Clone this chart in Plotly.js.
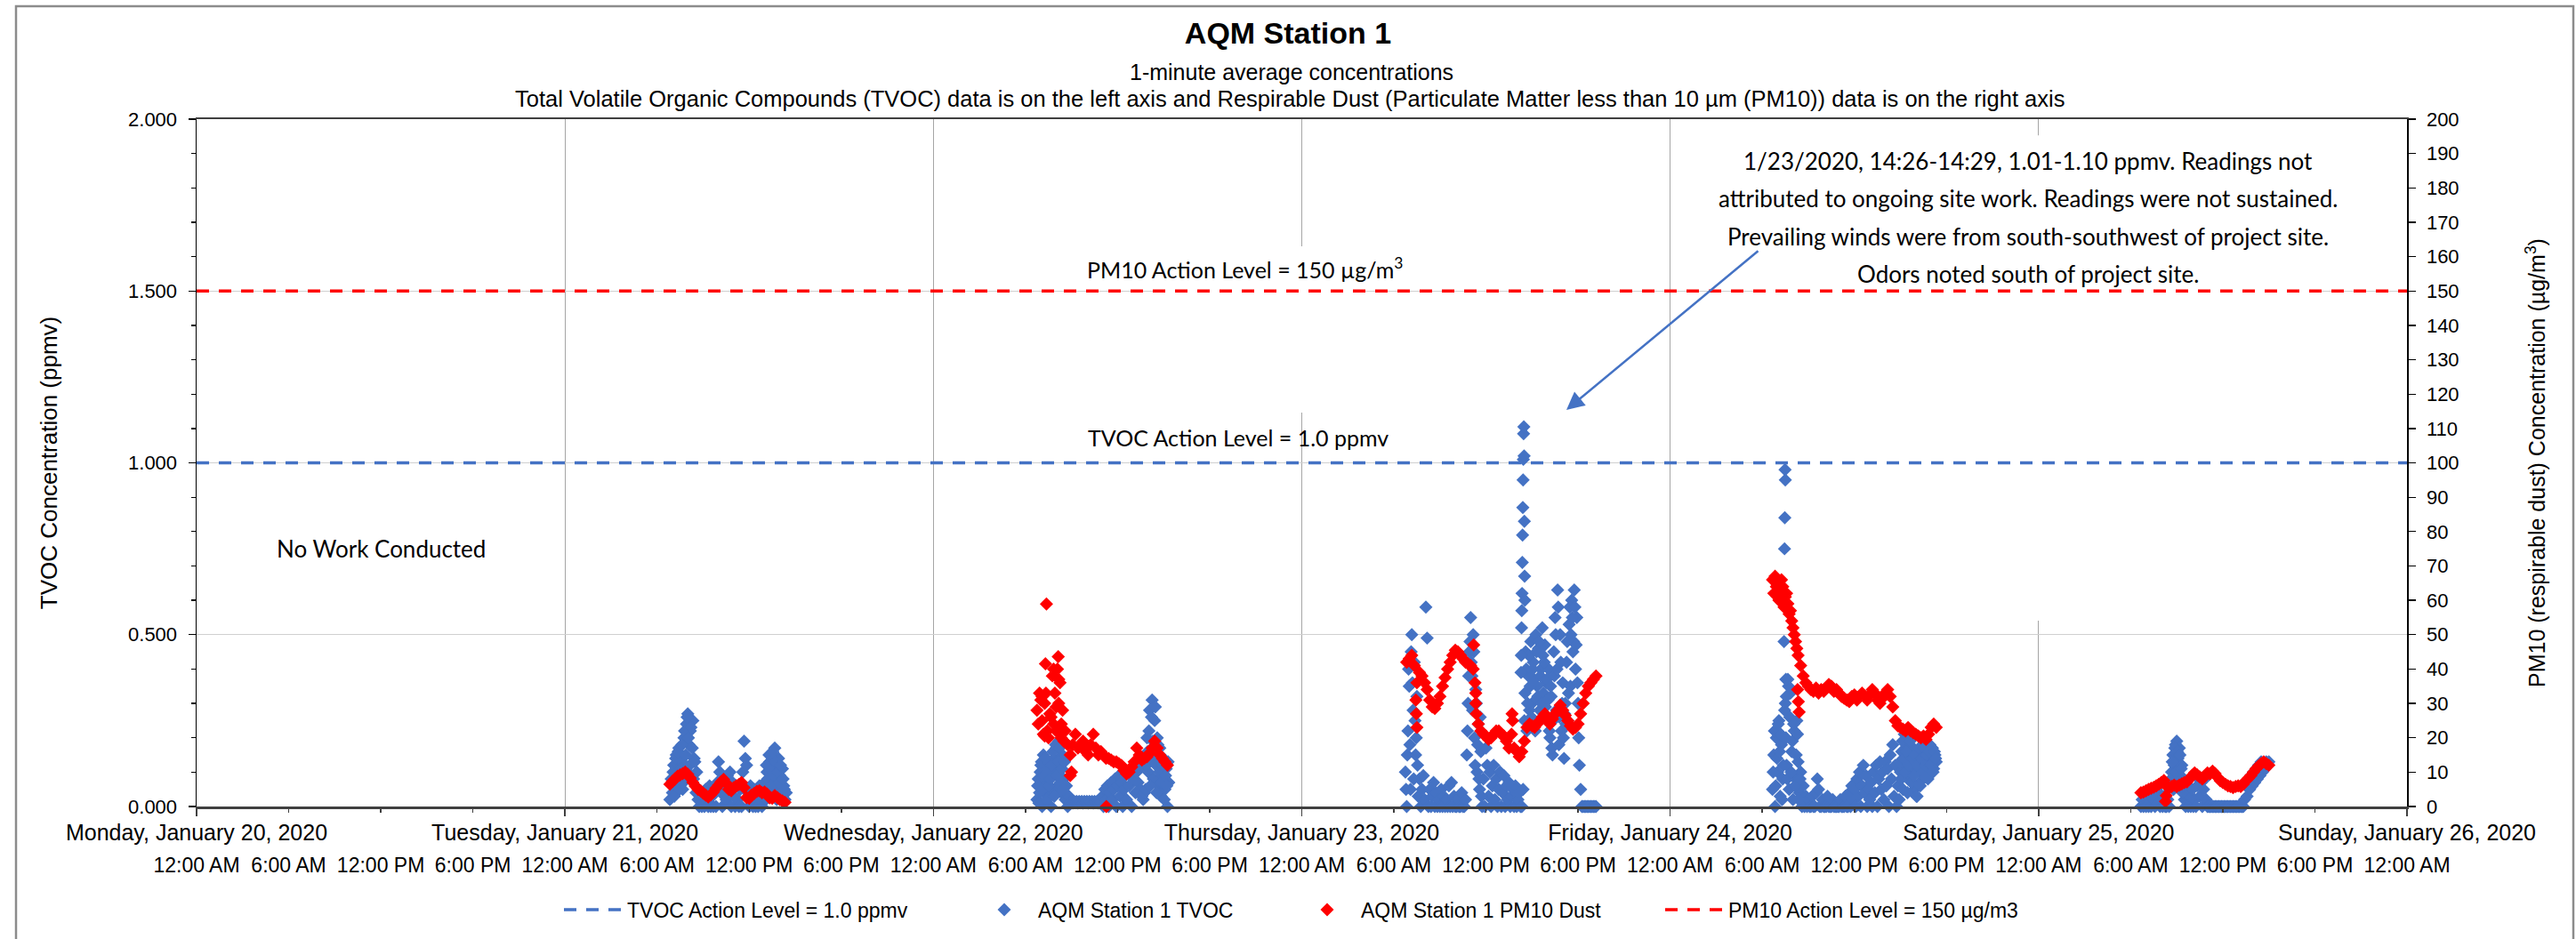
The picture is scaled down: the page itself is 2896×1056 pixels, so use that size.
<!DOCTYPE html>
<html>
<head>
<meta charset="utf-8">
<script src="https://cdn.plot.ly/plotly-3.0.1.min.js"></script>
<style>html,body{margin:0;padding:0;background:#fff;}#chart{width:2896px;height:1056px;}</style>
</head>
<body>
<div id="chart"></div>
<script>
// ---------------- DATA ----------------
const dayTicks = ['2020-01-20','2020-01-21','2020-01-22','2020-01-23','2020-01-24','2020-01-25','2020-01-26'];
const dayLabels = ['Monday, January 20, 2020','Tuesday, January 21, 2020','Wednesday, January 22, 2020',
  'Thursday, January 23, 2020','Friday, January 24, 2020','Saturday, January 25, 2020','Sunday, January 26, 2020'];
const hourLabels = ['12:00 AM','6:00 AM','12:00 PM','6:00 PM'];

// TVOC (ppmv), 5-minute readings per work day: start time + values
const tvocJan21Start = '2020-01-21T06:50:00';
const tvocJan21 = [.02,.08,.04,.12,.06,.15,.10,.17,.08,.13,.05,.20,.12,.24,.27,.18,.22,.09,.25,.14,.06,.10,.02,0,.04,0,.03,0,.05,.01,0,.06,0,.03,0,.05,0,.07,.13,.10,.04,0,.06,.08,.02,.09,.05,.10,0,.07,.03,0,.06,.02,0,.05,0,.10,.19,.14,.12,.04,0,.06,.02,0,.05,0,.04,0,.06,.02,0,.03,.07,.02,.10,.05,.13,.08,.15,.10,.17,.12,.06,.14,.09,.04,.11,.06,.02,.04];
const tvocJan22Start = '2020-01-22T06:45:00';
const tvocJan22 = [.02,.08,.04,.12,0,.15,.07,.11,.03,.13,.09,0,.05,.14,.10,.17,.06,.19,.12,.04,.15,.08,.02,.06,0,.03,.01,
  .015,.01,.015,.012,.015,.01,.015,.012,.015,.01,.015,.012,.015,.01,.015,.012,.015,.01,.015,.012,.015,.01,.015,.012,
  .03,0,.05,.02,.06,0,.04,.07,.02,.05,.08,0,.06,.09,.03,.07,0,.05,.09,.02,.10,.06,.11,0,.08,.12,.04,.10,.07,.11,.05,.03,.02,.04,
  .05,.20,.10,.28,.15,.31,.08,.25,.12,.20,.06,.17,.03,.09,.14,.05,.11,0,.07];
const tvocJan23Start = '2020-01-23T06:45:00';
const tvocJan23 = [.10,0,.22,.35,.05,.50,.28,.42,.15,.32,.03,.08,0,.05,.09,.02,.58,.49,0,.05,0,.03,.07,0,.04,0,.02,
  0,.05,0,.03,0,.02,0,.06,0,.07,0,.03,0,0,.02,0,0,.04,0,0,.02,
  .15,.30,.45,.55,.38,.50,.20,.34,.10,.24,.05,.16,0,.08,0,
  .17,.12,.03,.10,0,.06,.12,.02,.08,0,.05,.10,0,.04,.09,0,.06,.02,.07,0,.03,.05,0,.06,0,.02,.04,0,0,
  .05,.25,.45,.22,.38,.28,.48,.30,.42,.25,.50,.35,.46,.28,.40,.52,.33,.47,.36,.25,.40,.20,.32,.15,.45,.55,.28,.63,.18,.50,.22,.36,.14,.30,.42,.25,.53,.35,.60,.45,.63,.40,.55,.30,.12,.05,
  0,0,0,0,0,0,0,0,0,0,0,0];
const tvocJan24Start = '2020-01-24T06:40:00';
const tvocJan24 = [.05,.15,0,.20,.10,.25,.03,.18,.08,.48,.30,.12,.37,.05,.33,.16,.02,.22,.08,.25,.13,.04,.10,0,.06,0,.03,0,
  .02,0,0,.03,0,0,.04,.08,.05,0,0,.02,
  0,0,0,.03,0,0,0,.02,0,0,0,0,
  0,.02,0,0,0,.03,0,0,.04,0,.06,.02,
  .05,0,.08,.03,.10,0,.06,.12,.04,.09,0,.05,
  .02,.07,0,.10,.04,.12,0,.08,.13,.05,.10,.02,
  .13,.06,.11,0,.15,.08,.18,.03,.12,0,.06,.02,
  .10,.16,.05,.21,.12,.18,.08,.20,.14,.10,.17,.05,
  .12,.03,.15,.07,.11,.16,.09,.18,.13,.16,.10,.18,
  .14,.17,.11,.15,.13];
const tvocJan25Start = '2020-01-25T06:40:00';
const tvocJan25 = [0,.02,0,.01,0,.03,0,.04,0,.05,.02,0,.05,.01,.04,0,
  .02,0,.03,0,0,.02,0,.06,.10,.15,.12,.18,
  .19,.14,.17,.09,.12,.05,.02,0,.04,0,.03,0,
  .05,0,.02,0,.06,.08,.03,.07,0,.05,.08,.02,
  0,0,0,0,0,0,0,0,0,0,0,0,0,0,0,0,0,0,0,0,0,0,0,0,0,0,0,0,0,
  .02,.06,.03,.08,.05,.09,.06,.10,.07,.11,.08,.12,.09,.13,.10,.12,.11,.13,.12,.13];
// extra TVOC readings in the busiest periods (between the 5-minute readings above)
const tvocBusyA = ['2020-01-21T07:02:30', [.10,.03,.14,.09,.16,.05,.11,.18,.07,.22,.15,.26,.20,.12,.23,.17,.08,.13,.04]];
const tvocBusyB = ['2020-01-21T13:02:30', [.04,.12,.08,.15,.11,.06,.16,.09,.13,.02,.10,.07,.12,.03,.08,.05]];
const tvocBusyC = ['2020-01-22T06:47:30', [.06,.01,.10,.13,.05,.09,.14,.02,.11,.06,.08,.12,.16,.03,.18,.09,.13,.17,.07,.11,.05,.13]];
const tvocBusyD = ['2020-01-22T13:52:30', [.12,.16,.22,.06,.26,.19,.13,.29,.04,.18,.10,.13,.07,.12,.02,.09,.06,.13]];
const tvocBusyE = ['2020-01-23T06:47:30', [.05,.15,.40,.18,.45,.36,.08,.25,.20,.12]];
const tvocBusyF = ['2020-01-23T10:47:30', [.22,.38,.48,.42,.28,.45,.12,.30,.18,.08,.26,.03]];
const tvocBusyG = ['2020-01-23T14:32:30', [.33,.40,.30,.44,.35,.26,.40,.37,.22,.45,.32,.48,.38,.30,.44,.42,.29,.37,.31,.22,.35,.17,.25,.38,.50,.40,.58,.26,.42,.30,.20,.27,.24,.48,.33,.58,.50,.55,.48,.58,.47,.36,.20]];
const tvocBusyH = ['2020-01-24T06:42:30', [.10,.22,.06,.14,.24,.16,.21,.02,.12,.28,.20,.08,.35,.26,.10,.19,.24,.06,.15,.21,.02,.08]];
const tvocBusyI = ['2020-01-24T14:57:30', [.13,.08,.19,.14,.10,.16,.04,.12,.19,.07,.14,.09,.15,.03,.12,.17,.06,.14,.10,.17,.12,.15,.08,.16,.12,.17,.10,.16,.14]];
const tvocBusyJ = ['2020-01-25T08:37:30', [.08,.13,.05,.17,.10,.16,.07,.15,.11,.04]];
// isolated TVOC readings (spikes)
const tvocExtraTimes = ['2020-01-23 14:17','2020-01-23 14:18','2020-01-23 14:19','2020-01-23 14:20','2020-01-23 14:21',
  '2020-01-23 14:22','2020-01-23 14:23','2020-01-23 14:24','2020-01-23 14:25','2020-01-23 14:26','2020-01-23 14:27',
  '2020-01-23 14:28','2020-01-23 14:29','2020-01-23 14:30','2020-01-23 14:31','2020-01-23 14:32',
  '2020-01-24 07:27','2020-01-24 07:28','2020-01-24 07:29','2020-01-24 07:30','2020-01-24 07:32','2020-01-24 07:34'];
const tvocExtraValues = [.39,.44,.52,.57,.62,.71,.79,.87,.95,1.01,1.085,1.105,1.02,.83,.67,.60,
  .75,.84,.98,.95,.37,.32];

// PM10 dust (ug/m3), 10-minute readings per work day
const pmJan21Start = '2020-01-21T06:50:00';
const pmJan21 = [6.5,7.3,8.0,8.8,9.2,9.6,10.0,9.4,8.3,7.0,5.9,5.0,4.6,3.9,3.3,2.8,3.4,4.2,5.3,6.2,7.2,7.9,6.8,5.0,4.6,5.5,6.0,6.4,7.0,5.5,2.6,2.4,3.4,3.8,4.4,4.6,4.0,4.2,3.6,2.5,2.4,3.2,2.6,2.0,1.6,1.2];
const pmJan22Start = '2020-01-22T06:45:00';
const pmJan22 = [28,33,25,30,22,27,38,33,40,36,28,22,18,15,18,21,17,18,19,16,15,18,21,17,15,16,15,14,14,13.5,13,13,12.5,12,10.5,9.5,10,11.5,13,17,15,13.5,14,14.5,15.5,17,19,17,15,14,13,12];
const pmJan23Start = '2020-01-23T06:50:00';
const pmJan23 = [42,43,44,41,36,39,38,36,34,31,29,28.5,30,32,35,37.5,40,42,44,45.5,45,44,43,42,41.5,41,40,33,24,22,21,20.5,19.5,20,21,22,22,21,20.5,19,17,21,17,16,14.5,16,19,23,24,23.5,23,24,25,26,27,25,24,25.5,27,28,29.5,28,26.5,25,23.5,22.5,23,24,27,30,33,35,36,37,38];
const pmJan24Start = '2020-01-24T06:40:00';
const pmJan24 = [66,67,65,63,64,61,59,57,52,48,44,41,38,36,35,34,33.5,34.5,33,34,33.5,34.5,35.5,35,33.5,34,33,32,31.5,31,30.5,32,32.5,31,32,33,32,31,32.5,34,33,31,30,31.5,33,34,32,29,25,23.5,23,22.5,22,23,22,21.5,21,20.5,20,20.5,19.5,21,23,24,23];
const pmJan25Start = '2020-01-25T06:40:00';
const pmJan25 = [4.0,4.2,4.6,5.0,5.3,5.6,6.0,6.5,7.0,7.6,6.0,5.4,5.8,6.2,5.8,6.2,6.6,7.0,7.2,8.0,9.0,9.8,9.2,8.6,8.0,8.8,9.8,9.5,10.3,9.6,8.5,7.5,7.0,6.5,6.0,5.8,5.5,5.8,6.0,5.8,6.5,7.5,8.2,9.0,10.0,11.0,11.8,12.5,13.0,12.5,12.0];
// extra PM10 readings in the most variable periods
const pmBusyA = ['2020-01-22T06:50:00', [24,31,21,33,20,26,40,29,37,24,19]];
const pmBusyB = ['2020-01-24T06:45:00', [62,64,60,66,58,62,56,54,50,46]];
// isolated PM10 readings
const pmExtraTimes = ['2020-01-22 07:18','2020-01-22 07:22','2020-01-22 07:05','2020-01-22 07:15','2020-01-22 07:50','2020-01-22 08:00',
  '2020-01-22 08:08','2020-01-22 08:10','2020-01-22 08:20','2020-01-22 08:55','2020-01-22 09:00','2020-01-22 11:16',
  '2020-01-23 07:26','2020-01-23 07:28','2020-01-23 07:30','2020-01-23 11:12','2020-01-23 11:17','2020-01-23 11:20','2020-01-23 11:22',
  '2020-01-23 13:42','2020-01-23 13:44',
  '2020-01-24 08:18','2020-01-24 08:21','2020-01-24 08:24',
  '2020-01-25 08:16','2020-01-25 08:19'];
const pmExtraValues = [41.5,58.9,32,20.5,24,22,43.6,30,20,9,10,0,
  31,27,23,47,36,30,27,27,25,
  34,30.5,27.5,
  1.5,3.2];

const tvocActionLevel = 1.0;
const pmActionLevel = 150;

// ---------------- helpers ----------------
function stamps(start, stepMin, n) {
  const t0 = Date.parse(start + 'Z');
  const out = [];
  for (let i = 0; i < n; i++) out.push(new Date(t0 + i * stepMin * 60000).toISOString().slice(0, 19).replace('T', ' '));
  return out;
}
function joinSeries(list, step) {
  const xs = [], ys = [];
  list.forEach(([s, v]) => { xs.push(...stamps(s, step, v.length)); ys.push(...v); });
  return [xs, ys];
}
const [tvX, tvY] = joinSeries([[tvocJan21Start, tvocJan21],[tvocJan22Start, tvocJan22],[tvocJan23Start, tvocJan23],
  [tvocJan24Start, tvocJan24],[tvocJan25Start, tvocJan25],
  tvocBusyA, tvocBusyB, tvocBusyC, tvocBusyD, tvocBusyE, tvocBusyF, tvocBusyG, tvocBusyH, tvocBusyI, tvocBusyJ], 5);
tvX.push(...tvocExtraTimes); tvY.push(...tvocExtraValues);
const [pmX, pmY] = joinSeries([[pmJan21Start, pmJan21],[pmJan22Start, pmJan22],[pmJan23Start, pmJan23],
  [pmJan24Start, pmJan24],[pmJan25Start, pmJan25], pmBusyA, pmBusyB], 10);
pmX.push(...pmExtraTimes); pmY.push(...pmExtraValues);

const hourTicks = [], hourText = [];
for (let d = 0; d < 6; d++) for (let h = 0; h < 4; h++) {
  hourTicks.push(dayTicks[d] + ' ' + String(h * 6).padStart(2, '0') + ':00');
  hourText.push(hourLabels[h]);
}
hourTicks.push(dayTicks[6] + ' 00:00'); hourText.push(hourLabels[0]);

const xStart = dayTicks[0], xEnd = dayTicks[6];
const ARIAL = 'Liberation Sans, Arial, sans-serif';
const CAL = 'Lato, Open Sans, sans-serif';
const BLUE = '#4472C4', RED = '#FF0000';
const MS = 11.5;

const traces = [
  {name: 'TVOC Action Level = 1.0 ppmv', x: [xStart, xEnd], y: [tvocActionLevel, tvocActionLevel], mode: 'lines',
   line: {color: BLUE, width: 3.5, dash: '14px,11px'}, xaxis: 'x2', yaxis: 'y', legend: 'legend', hoverinfo: 'skip'},
  {name: 'AQM Station 1 TVOC', x: tvX, y: tvY, mode: 'markers', cliponaxis: false,
   marker: {symbol: 'diamond', size: MS, color: BLUE, line: {width: 0}}, xaxis: 'x', yaxis: 'y', legend: 'legend2'},
  {name: 'AQM Station 1 PM10 Dust', x: pmX, y: pmY, mode: 'markers', cliponaxis: false,
   marker: {symbol: 'diamond', size: MS, color: RED, line: {width: 0}}, xaxis: 'x', yaxis: 'y2', legend: 'legend3'},
  {name: 'PM10 Action Level = 150 µg/m3', x: [xStart, xEnd], y: [pmActionLevel, pmActionLevel], mode: 'lines',
   line: {color: RED, width: 3.5, dash: '14px,11px'}, xaxis: 'x', yaxis: 'y2', legend: 'legend4', hoverinfo: 'skip'}
];

const PW = 2485, PH = 773, L = 221, T = 134;
const px = v => (v - L) / PW;           // pixel -> paper x
const py = v => (T + PH - v) / PH;      // pixel -> paper y

function legendAt(leftPx) {
  return {orientation: 'h', x: px(leftPx), xanchor: 'left', y: py(1023), yanchor: 'middle',
          font: {size: 23, family: ARIAL, color: '#000'}, itemwidth: 66, bgcolor: 'rgba(0,0,0,0)', borderwidth: 0};
}

const layout = {
  width: 2896, height: 1056,
  margin: {l: 221, r: 190, t: 134, b: 149, pad: 0},
  paper_bgcolor: '#fff', plot_bgcolor: '#fff',
  font: {family: ARIAL, color: '#000', size: 22},
  showlegend: true,
  title: {text: '<b>AQM Station 1</b>', font: {family: ARIAL, size: 34, color: '#000'},
          x: 0.5, xref: 'container', xanchor: 'center', y: 1 - 37 / 1056, yref: 'container', yanchor: 'middle'},
  xaxis: {type: 'date', range: [xStart, xEnd], tickmode: 'array', tickvals: dayTicks, ticktext: dayLabels,
          ticks: 'outside', ticklen: 8, tickwidth: 1.5, tickcolor: '#404040', tickfont: {size: 25, family: ARIAL},
          ticklabelstandoff: -3,
          showgrid: true, gridcolor: '#A6A6A6', gridwidth: 1.3, showline: true, linecolor: '#404040', linewidth: 2.5,
          mirror: true, zeroline: false, fixedrange: true},
  xaxis2: {type: 'date', overlaying: 'x', anchor: 'y', side: 'bottom', range: [xStart, xEnd], tickmode: 'array',
           tickvals: hourTicks, ticktext: hourText, ticks: 'outside', ticklen: 6, tickwidth: 1.5, tickcolor: '#404040',
           tickfont: {size: 23, family: ARIAL}, ticklabelstandoff: 39, showgrid: false, showline: false, zeroline: false},
  yaxis: {range: [0, 2], tickmode: 'linear', tick0: 0, dtick: 0.5, tickformat: '.3f', ticks: 'outside', ticklen: 8,
          tickcolor: '#000', tickwidth: 1.3, ticklabelstandoff: 8,
          minor: {tickmode: 'linear', tick0: 0, dtick: 0.1, ticks: 'outside', ticklen: 5, tickcolor: '#000', showgrid: false},
          showgrid: true, gridcolor: '#D0D0D0', gridwidth: 1, showline: true, linecolor: '#000', linewidth: 1.5,
          zeroline: false, tickfont: {size: 22, family: ARIAL},
          title: {text: 'TVOC Concentration (ppmv)', font: {size: 26, family: ARIAL}, standoff: 72}},
  yaxis2: {range: [0, 200], overlaying: 'y', side: 'right', tickmode: 'linear', tick0: 0, dtick: 10,
           ticks: 'outside', ticklen: 8, tickcolor: '#000', tickwidth: 1.3, ticklabelstandoff: 8,
           showgrid: false, showline: true, linecolor: '#000', linewidth: 1.5, zeroline: false,
           tickfont: {size: 22, family: ARIAL},
           title: {text: 'PM10 (respirable dust) Concentration (µg/m<sup>3</sup>)', font: {size: 25, family: ARIAL}, standoff: 80}},
  legend: legendAt(629),
  legend2: legendAt(1091),
  legend3: legendAt(1454),
  legend4: legendAt(1867),
  shapes: [
    // white fill of the chart's text boxes: hides the vertical gridlines behind them, stays under the data
    {type: 'rect', xref: 'x', yref: 'y', x0: '2020-01-22 14:33', x1: '2020-01-23 03:53', y0: 1.146, y1: 1.63,
     line: {width: 0}, fillcolor: '#fff', layer: 'between'},
    {type: 'rect', xref: 'x', yref: 'y', x0: '2020-01-24 06:16', x1: '2020-01-25 17:55', y0: 0.541, y1: 1.953,
     line: {width: 0}, fillcolor: '#fff', layer: 'between'},
    {type: 'rect', xref: 'paper', yref: 'paper', x0: px(18), x1: px(2893), y0: py(1070), y1: py(7),
     line: {color: '#8C8C8C', width: 2.5}, fillcolor: 'rgba(0,0,0,0)', layer: 'above'}
  ],
  annotations: [
    {text: '1-minute average concentrations', xref: 'paper', yref: 'paper', x: px(1452), y: py(81),
     showarrow: false, font: {size: 25, family: ARIAL}, xanchor: 'center', yanchor: 'middle'},
    {text: 'Total Volatile Organic Compounds (TVOC) data is on the left axis and Respirable Dust (Particulate Matter less than 10 µm (PM10)) data is on the right axis',
     xref: 'paper', yref: 'paper', x: px(1450), y: py(111), showarrow: false, font: {size: 25.5, family: ARIAL},
     xanchor: 'center', yanchor: 'middle'},
    {text: 'No Work Conducted', xref: 'paper', yref: 'paper', x: px(428), y: py(617), showarrow: false,
     font: {size: 26, family: CAL}, xanchor: 'center', yanchor: 'middle'},
    {text: 'PM10 Action Level = 150 µg/m<sup>3</sup>', xref: 'paper', yref: 'paper', x: px(1400), y: py(301), showarrow: false,
     font: {size: 25, family: CAL}, xanchor: 'center', yanchor: 'middle'},
    {text: 'TVOC Action Level = 1.0 ppmv', xref: 'paper', yref: 'paper', x: px(1392), y: py(492), showarrow: false,
     font: {size: 25, family: CAL}, xanchor: 'center', yanchor: 'middle'},
    {text: '1/23/2020, 14:26-14:29, 1.01-1.10 ppmv. Readings not', xref: 'paper', yref: 'paper', x: px(2280), y: py(181),
     showarrow: false, font: {size: 26, family: CAL}, xanchor: 'center', yanchor: 'middle'},
    {text: 'attributed to ongoing site work. Readings were not sustained.', xref: 'paper', yref: 'paper', x: px(2280), y: py(223),
     showarrow: false, font: {size: 26, family: CAL}, xanchor: 'center', yanchor: 'middle'},
    {text: 'Prevailing winds were from south-southwest of project site.', xref: 'paper', yref: 'paper', x: px(2280), y: py(266),
     showarrow: false, font: {size: 26, family: CAL}, xanchor: 'center', yanchor: 'middle'},
    {text: 'Odors noted south of project site.', xref: 'paper', yref: 'paper', x: px(2280), y: py(308),
     showarrow: false, font: {size: 26, family: CAL}, xanchor: 'center', yanchor: 'middle'},
    {text: '', xref: 'paper', yref: 'paper', x: px(1761), y: py(461), ax: 1978 - 1761, ay: 281 - 461,
     showarrow: true, arrowhead: 2, arrowsize: 1.6, arrowwidth: 2.5, arrowcolor: BLUE, standoff: 0}
  ]
};

Plotly.newPlot('chart', traces, layout, {staticPlot: true, displayModeBar: false});
</script>
</body>
</html>
